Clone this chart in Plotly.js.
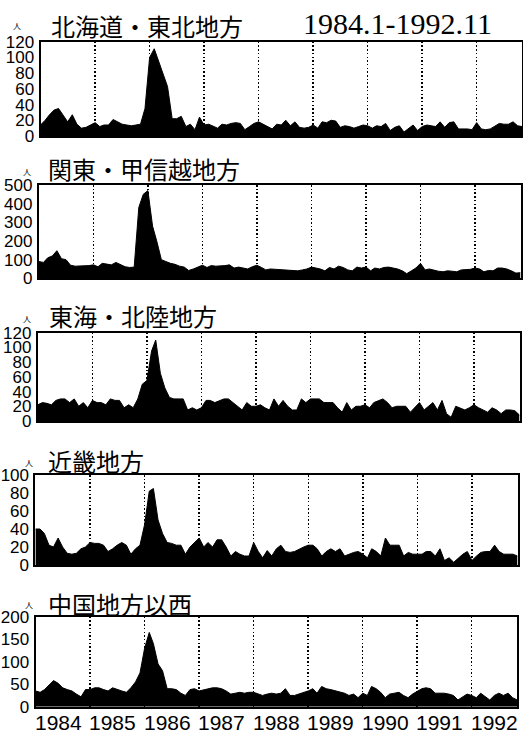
<!DOCTYPE html>
<html><head><meta charset="utf-8">
<script src="https://cdn.plot.ly/plotly-3.0.1.min.js"></script>
<style>html,body{margin:0;padding:0;background:#fff}#c{width:523px;height:733px}</style>
</head><body><div id="c"></div>
<script>
// Monthly counts, 1984.1 - 1992.11 (107 months)
const regions = ["北海道・東北地方", "関東・甲信越地方", "東海・北陸地方", "近畿地方", "中国地方以西"];
const period = "1984.1-1992.11";
const yearLabels = ["1984","1985","1986","1987","1988","1989","1990","1991","1992"];

const hokkaidoTohoku = [14,20,27,33,35,26,18,27,15,10,11,14,17,12,14,14,21,18,15,14,13,14,15,35,100,111,95,80,63,22,22,25,12,15,8,24,14,15,13,10,15,14,16,17,16,8,12,16,18,15,12,9,15,14,20,13,18,11,10,11,14,10,18,17,20,19,11,13,12,10,12,14,13,10,13,12,16,7,11,13,5,10,14,7,12,14,13,12,18,11,17,18,9,9,9,8,17,9,8,9,12,16,15,15,18,13,12];
const kantoKoshinetsu = [90,85,110,120,148,105,100,70,65,65,65,68,72,62,80,75,72,85,75,62,58,60,380,450,470,280,200,100,90,80,75,65,60,42,50,60,70,58,68,65,65,68,72,55,60,55,50,62,70,58,45,50,48,45,45,45,42,40,45,50,60,55,50,40,58,50,65,58,45,40,60,55,60,40,55,50,58,60,55,50,40,25,40,55,80,45,50,42,38,35,40,38,35,45,45,48,55,50,35,42,40,55,55,50,40,28,30];
const tokaiHokuriku = [22,25,24,22,28,30,30,25,30,20,25,18,28,25,25,22,30,28,28,18,22,18,30,50,55,95,110,65,45,32,30,30,30,15,18,15,18,28,28,25,28,30,30,25,20,15,25,20,20,22,18,15,30,20,28,20,15,15,30,25,30,30,30,25,25,25,18,12,25,15,20,20,22,18,25,28,30,25,18,20,20,20,12,18,25,15,20,25,15,28,10,5,20,18,15,18,22,18,15,12,18,15,10,15,15,14,8];
const kinki = [40,40,35,22,20,30,20,13,12,13,18,20,25,24,24,22,15,18,22,25,22,12,18,22,45,82,85,50,35,25,24,22,22,12,20,25,30,20,25,20,28,28,20,10,15,12,10,10,25,15,8,16,10,18,22,15,14,15,18,20,22,22,18,10,15,18,15,18,10,12,14,15,12,8,18,15,10,30,22,22,22,10,14,12,12,12,15,15,10,18,5,8,3,8,12,15,5,10,14,15,15,22,15,12,12,12,10];
const chugokuWest = [35,32,38,48,58,52,42,38,35,28,22,38,38,42,42,38,35,42,38,35,32,42,55,75,130,165,140,95,80,40,40,38,30,25,38,40,35,38,40,42,42,40,35,28,30,32,30,32,32,28,25,28,30,28,30,40,25,25,28,32,35,40,30,45,40,38,35,32,30,25,28,20,30,25,45,40,32,20,28,30,32,25,20,28,35,40,42,40,30,30,30,28,25,15,22,28,25,20,30,22,15,25,30,25,30,20,15];

const series = [hokkaidoTohoku, kantoKoshinetsu, tokaiHokuriku, kinki, chugokuWest];
const yMax = [120, 500, 120, 100, 200];
const yStep = [20, 100, 20, 20, 50];

// month categories
const months = [];
for (let y = 1984; y <= 1992; y++) {
  for (let m = 1; m <= 12; m++) {
    if (y === 1992 && m > 11) break;
    months.push(y + "-" + String(m).padStart(2, "0") + "-01");
  }
}
const yearStarts = [];
for (let y = 1985; y <= 1992; y++) yearStarts.push(y + "-01-01");

// layout geometry (pixels)
const W = 523, H = 733;
const panels = [
  {l: 40.5, r: 522.2, top: 41.7, bot: 136,   tx: 49, ty: 25,  px: 17, py: 26},
  {l: 38.8, r: 520.5, top: 185,  bot: 278.3, tx: 46, ty: 169, px: 27, py: 171},
  {l: 37.8, r: 519.5, top: 332.7,bot: 421,   tx: 47, ty: 315, px: 27, py: 318},
  {l: 35.4, r: 517.5, top: 475,  bot: 565,   tx: 46, ty: 460, px: 29, py: 462},
  {l: 35.5, r: 517.2, top: 616.7,bot: 706.7, tx: 46, ty: 603, px: 29, py: 604}
];

const tickFont = {family: "Liberation Sans, Arial, sans-serif", size: 17, color: "#000"};
const data = [];
const layout = {
  width: W, height: H,
  margin: {l: 0, r: 0, t: 0, b: 0},
  paper_bgcolor: "#fff", plot_bgcolor: "#fff",
  showlegend: false,
  annotations: [],
  font: {family: "Liberation Sans, Arial, sans-serif", color: "#000"}
};

series.forEach((vals, k) => {
  const sx = k === 0 ? "" : String(k + 1);
  const p = panels[k];
  data.push({
    type: "scatter", mode: "lines",
    x: months, y: vals,
    xaxis: "x" + sx, yaxis: "y" + sx,
    fill: "tozeroy", fillcolor: "#000",
    line: {color: "#000", width: 1},
    hoverinfo: "skip"
  });
  const ticks = [];
  for (let v = 0; v <= yMax[k]; v += yStep[k]) ticks.push(v);
  layout["xaxis" + sx] = {
    domain: [p.l / W, p.r / W],
    anchor: "y" + sx,
    type: "date",
    range: [months[0], months[months.length - 1]],
    tickmode: "array", tickvals: yearStarts, showticklabels: false, ticks: "",
    showgrid: true, gridcolor: "#000", gridwidth: 1.5, griddash: "1.5px,2.2px",
    showline: true, mirror: true, linecolor: "#000", linewidth: 2,
    zeroline: false, automargin: false, fixedrange: true
  };
  layout["yaxis" + sx] = {
    domain: [(H - p.bot) / H, (H - p.top) / H],
    anchor: "x" + sx,
    range: [0, yMax[k]],
    tickmode: "array", tickvals: ticks, ticks: "",
    tickfont: tickFont, ticklabelstandoff: 1,
    showgrid: false, zeroline: false,
    showline: true, mirror: true, linecolor: "#000", linewidth: 2,
    automargin: false, fixedrange: true
  };
  layout.annotations.push({
    text: regions[k], xref: "paper", yref: "paper",
    x: p.tx / W, y: (H - p.ty) / H, xanchor: "left", yanchor: "middle",
    showarrow: false,
    font: {family: "Noto Sans CJK JP, sans-serif", size: 24, color: "#000"}
  });
  layout.annotations.push({
    text: "人", xref: "paper", yref: "paper",
    x: p.px / W, y: (H - p.py) / H, xanchor: "center", yanchor: "middle",
    showarrow: false,
    font: {family: "Noto Sans CJK JP, sans-serif", size: 8, color: "#000"}
  });
});

layout.annotations.push({
  text: period, xref: "paper", yref: "paper",
  x: 397 / W, y: (H - 24) / H, xanchor: "center", yanchor: "middle",
  showarrow: false,
  font: {family: "Liberation Serif, serif", size: 30, color: "#000"}
});

yearLabels.forEach((lab) => {
  layout.annotations.push({
    text: lab, xref: "x5", yref: "paper",
    x: lab + "-06-01", y: (H - 722) / H, xanchor: "center", yanchor: "middle",
    showarrow: false,
    font: {family: "Liberation Sans, Arial, sans-serif", size: 21, color: "#000"}
  });
});

Plotly.newPlot("c", data, layout, {staticPlot: true, displayModeBar: false});
</script>
</body></html>
